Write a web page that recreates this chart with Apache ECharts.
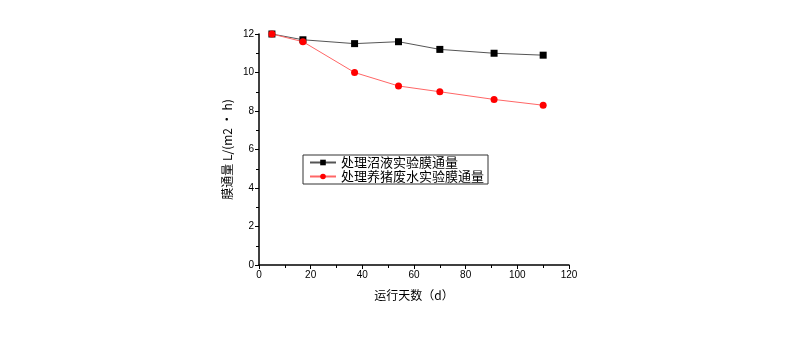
<!DOCTYPE html>
<html><head><meta charset="utf-8">
<script src="https://cdn.jsdelivr.net/npm/echarts@6/dist/echarts.min.js"></script>
<style>html,body{margin:0;padding:0;background:#fff}#c{width:800px;height:340px}</style>
</head><body><div id="c"></div>
<script>
const days = [5, 17, 37, 54, 70, 91, 110];
const fluxBiogas = [12.0, 11.7, 11.5, 11.6, 11.2, 11.0, 10.9];
const fluxPig = [12.0, 11.6, 10.0, 9.3, 9.0, 8.6, 8.3];
const seriesNames = ['处理沼液实验膜通量', '处理养猪废水实验膜通量'];
const xTitle = '运行天数（d）';
const yTitle = '膜通量 L/(m2 • h)';

const chart = echarts.init(document.getElementById('c'), null, {renderer: 'canvas'});
const axisCommon = {
  axisLine: {show: true, onZero: false, lineStyle: {color: '#000', width: 1.5}},
  axisTick: {show: true, inside: false, length: 4, lineStyle: {color: '#000'}},
  minorTick: {show: true, splitNumber: 2, length: 3, lineStyle: {color: '#000'}},
  splitLine: {show: false},
  axisLabel: {color: '#000', fontSize: 10, fontFamily: 'Liberation Sans', margin: 5},
  nameTextStyle: {color: '#000', fontSize: 12, fontFamily: 'Noto Sans CJK SC'}
};
chart.setOption({
  animation: false,
  grid: {left: 259, right: 231, top: 34, bottom: 75, containLabel: false},
  legend: {
    orient: 'vertical', left: 303, top: 155,
    data: seriesNames,
    borderColor: '#333', borderWidth: 1, padding: [1, 4, 1, 6],
    itemWidth: 26, itemHeight: 7, itemGap: 1,
    textStyle: {fontSize: 13, color: '#000', fontFamily: 'Noto Sans CJK SC'}
  },
  xAxis: Object.assign({}, axisCommon, {
    type: 'value', min: 0, max: 120, interval: 20,
    name: xTitle, nameLocation: 'middle', nameGap: 24
  }),
  yAxis: Object.assign({}, axisCommon, {
    type: 'value', min: 0, max: 12, interval: 2,
    name: yTitle, nameLocation: 'middle', nameGap: 26, nameRotate: 90
  }),
  series: [
    {
      name: seriesNames[0], type: 'line',
      data: days.map((d, i) => [d, fluxBiogas[i]]),
      symbol: 'rect', symbolSize: 7,
      itemStyle: {color: '#000'},
      lineStyle: {color: '#555', width: 1}
    },
    {
      name: seriesNames[1], type: 'line',
      data: days.map((d, i) => [d, fluxPig[i]]),
      symbol: 'circle', symbolSize: 7,
      itemStyle: {color: '#f00'},
      lineStyle: {color: '#f66', width: 1}
    }
  ]
});
</script></body></html>
